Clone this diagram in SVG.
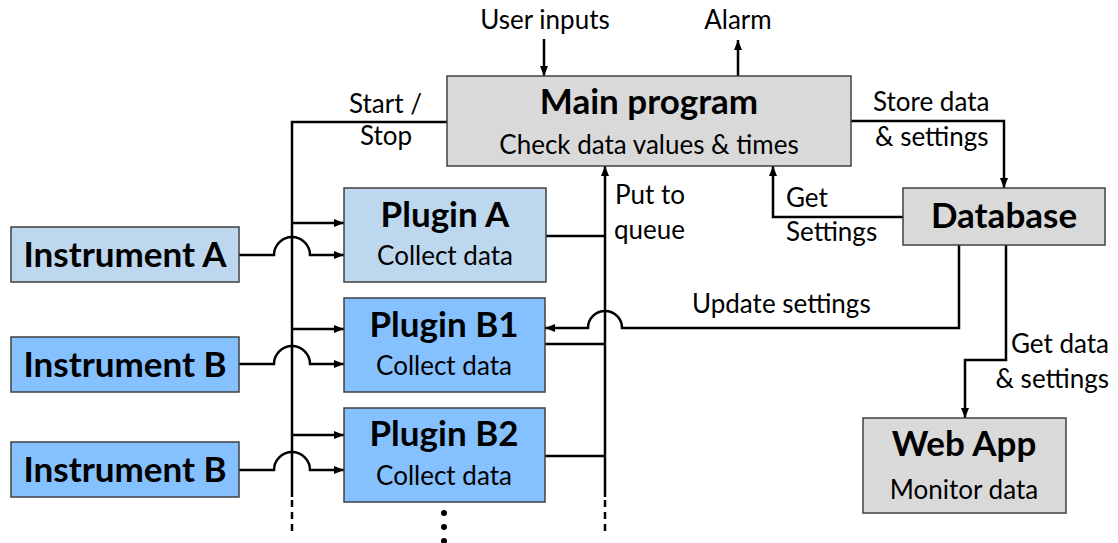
<svg xmlns="http://www.w3.org/2000/svg" width="1118" height="543" viewBox="0 0 1118 543">
<style>
.box{stroke:#404040;stroke-width:1.5}
.gray{fill:#d9d9d9}
.lb{fill:#bdd7ee}
.db{fill:#85c0ff}
.t{font-family:Lato,"Liberation Sans",sans-serif;fill:#000;font-size:26px}
.b{font-weight:bold;font-size:35px}
.c{text-anchor:middle}
.e{text-anchor:end}
.ln{fill:none;stroke:#000;stroke-width:2.5}
.dash{fill:none;stroke:#000;stroke-width:2.5;stroke-dasharray:7,5}
</style>
<defs>
<marker id="ah" markerWidth="10" markerHeight="8" refX="10" refY="4" orient="auto" markerUnits="userSpaceOnUse">
<path d="M0,0 L10,4 L0,8 z" fill="#000"/>
</marker>
</defs>
<rect width="1118" height="543" fill="#fff"/>
<g id="connectors">
<path class="ln" d="M544,39 V76" marker-end="url(#ah)"/>
<path class="ln" d="M738,76 V40" marker-end="url(#ah)"/>
<path class="ln" d="M447,122 H292 V497"/>
<path class="dash" d="M292,500 V536"/>
<path class="ln" d="M851,121 H1004 V188" marker-end="url(#ah)"/>
<path class="ln" d="M903,217 H773 V166" marker-end="url(#ah)"/>
<path class="ln" d="M605,497 V166" marker-end="url(#ah)"/>
<path class="dash" d="M605,500 V536"/>
<path class="ln" d="M546,236 H605"/>
<path class="ln" d="M545,344 H605"/>
<path class="ln" d="M545,456 H605"/>
<path class="ln" d="M959,245 V328 H622 A17,17 0 0 0 588,328 H545" marker-end="url(#ah)"/>
<path class="ln" d="M1006,245 V360 H965 V418" marker-end="url(#ah)"/>
<path class="ln" d="M292,223 H344" marker-end="url(#ah)"/>
<path class="ln" d="M292,329 H344" marker-end="url(#ah)"/>
<path class="ln" d="M292,435 H344" marker-end="url(#ah)"/>
<path class="ln" d="M239,255 H274 A18,18 0 0 1 310,255 H344" marker-end="url(#ah)"/>
<path class="ln" d="M239,364 H274 A18,18 0 0 1 310,364 H344" marker-end="url(#ah)"/>
<path class="ln" d="M239,470 H274 A18,18 0 0 1 310,470 H344" marker-end="url(#ah)"/>
<circle cx="444" cy="513" r="3" fill="#000"/>
<circle cx="444" cy="527" r="3" fill="#000"/>
<circle cx="444" cy="541" r="3" fill="#000"/>
</g>
<g id="labels">
<text class="t c" x="545" y="29">User inputs</text>
<text class="t c" x="738" y="29">Alarm</text>
<text class="t e" x="422" y="113">Start /</text>
<text class="t c" x="386" y="145">Stop</text>
<text class="t" x="873" y="111">Store data</text>
<text class="t" x="875" y="146">&amp; settings</text>
<text class="t" x="786" y="207">Get</text>
<text class="t" x="786" y="241">Settings</text>
<text class="t" x="615" y="204">Put to</text>
<text class="t" x="614" y="239">queue</text>
<text class="t" x="692" y="313">Update settings</text>
<text class="t e" x="1109" y="353">Get data</text>
<text class="t e" x="1109" y="388">&amp; settings</text>
</g>
<g id="main-program">
<rect class="box gray" x="447" y="76" width="404" height="90"/>
<text class="t b c" x="649" y="114">Main program</text>
<text class="t c" x="649" y="154">Check data values &amp; times</text>
</g>
<g id="database">
<rect class="box gray" x="903" y="188" width="202" height="57"/>
<text class="t b c" x="1004" y="228">Database</text>
</g>
<g id="web-app">
<rect class="box gray" x="863" y="418" width="203" height="95"/>
<text class="t b c" x="964" y="456">Web App</text>
<text class="t c" x="964" y="499">Monitor data</text>
</g>
<g id="plugin-a">
<rect class="box lb" x="344" y="188" width="202" height="94"/>
<text class="t b c" x="445" y="227">Plugin A</text>
<text class="t c" x="445" y="265">Collect data</text>
</g>
<g id="plugin-b1">
<rect class="box db" x="344" y="298" width="201" height="94"/>
<text class="t b c" x="444" y="337">Plugin B1</text>
<text class="t c" x="444" y="375">Collect data</text>
</g>
<g id="plugin-b2">
<rect class="box db" x="344" y="408" width="201" height="94"/>
<text class="t b c" x="444" y="446">Plugin B2</text>
<text class="t c" x="444" y="485">Collect data</text>
</g>
<g id="instrument-a">
<rect class="box lb" x="11" y="227" width="228" height="55"/>
<text class="t b c" x="125" y="267">Instrument A</text>
</g>
<g id="instrument-b1">
<rect class="box db" x="11" y="337" width="228" height="55"/>
<text class="t b c" x="125" y="377">Instrument B</text>
</g>
<g id="instrument-b2">
<rect class="box db" x="11" y="442" width="228" height="55"/>
<text class="t b c" x="125" y="482">Instrument B</text>
</g>
</svg>
